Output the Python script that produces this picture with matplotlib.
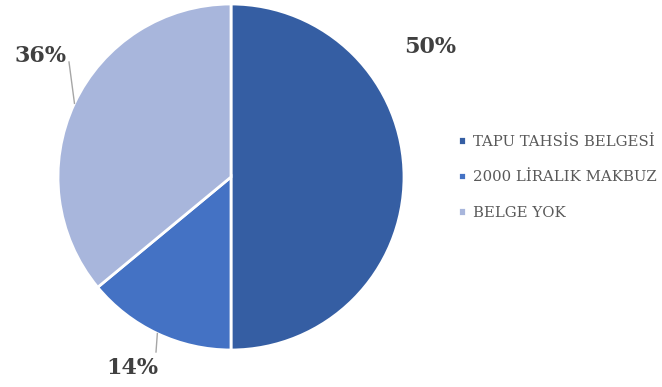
import matplotlib.pyplot as plt
import numpy as np

# Share of document types
labels = ['TAPU TAHSİS BELGESİ', '2000 LİRALIK MAKBUZ', 'BELGE YOK']
shares = [50, 14, 36]
colors = ['#355EA3', '#4472C4', '#A8B6DC']

fig = plt.figure(figsize=(6.62, 3.87), dpi=100)
# axes in pixel units so the pie keeps its round shape
ax = fig.add_axes([0, 0, 1, 1])

cx, cy, r = 231, 210, 173
wedges, _ = ax.pie(shares, colors=colors, startangle=90, counterclock=False,
                   center=(cx, cy), radius=r, frame=True,
                   wedgeprops=dict(edgecolor='white', linewidth=2))
ax.set_xlim(0, 662)
ax.set_ylim(0, 387)
ax.axis('off')

# percentage labels; the two smaller slices get a leader line
label_pos = [(430, 340), (132, 19), (40, 331)]
leader_end = [None, (156, 35), (69, 325)]
for w, val, pos, end in zip(wedges, shares, label_pos, leader_end):
    mid = np.deg2rad((w.theta1 + w.theta2) / 2)
    if end is not None:
        ex, ey = cx + r * np.cos(mid), cy + r * np.sin(mid)
        ax.plot([ex, end[0]], [ey, end[1]], color='#A6A6A6', lw=1)
    ax.text(pos[0], pos[1], f'{val}%', ha='center', va='center',
            fontsize=16, fontweight='bold', family='DejaVu Serif',
            color='#404040')

leg = ax.legend(wedges, labels, loc='center left', bbox_to_anchor=(0.672, 0.542),
                frameon=False, handlelength=0.55, handleheight=0.55,
                handletextpad=0.45, labelspacing=1.45,
                prop=dict(family='DejaVu Serif', size=10.7))
for t in leg.get_texts():
    t.set_color('#595959')

fig.savefig('out.png', dpi=100)
